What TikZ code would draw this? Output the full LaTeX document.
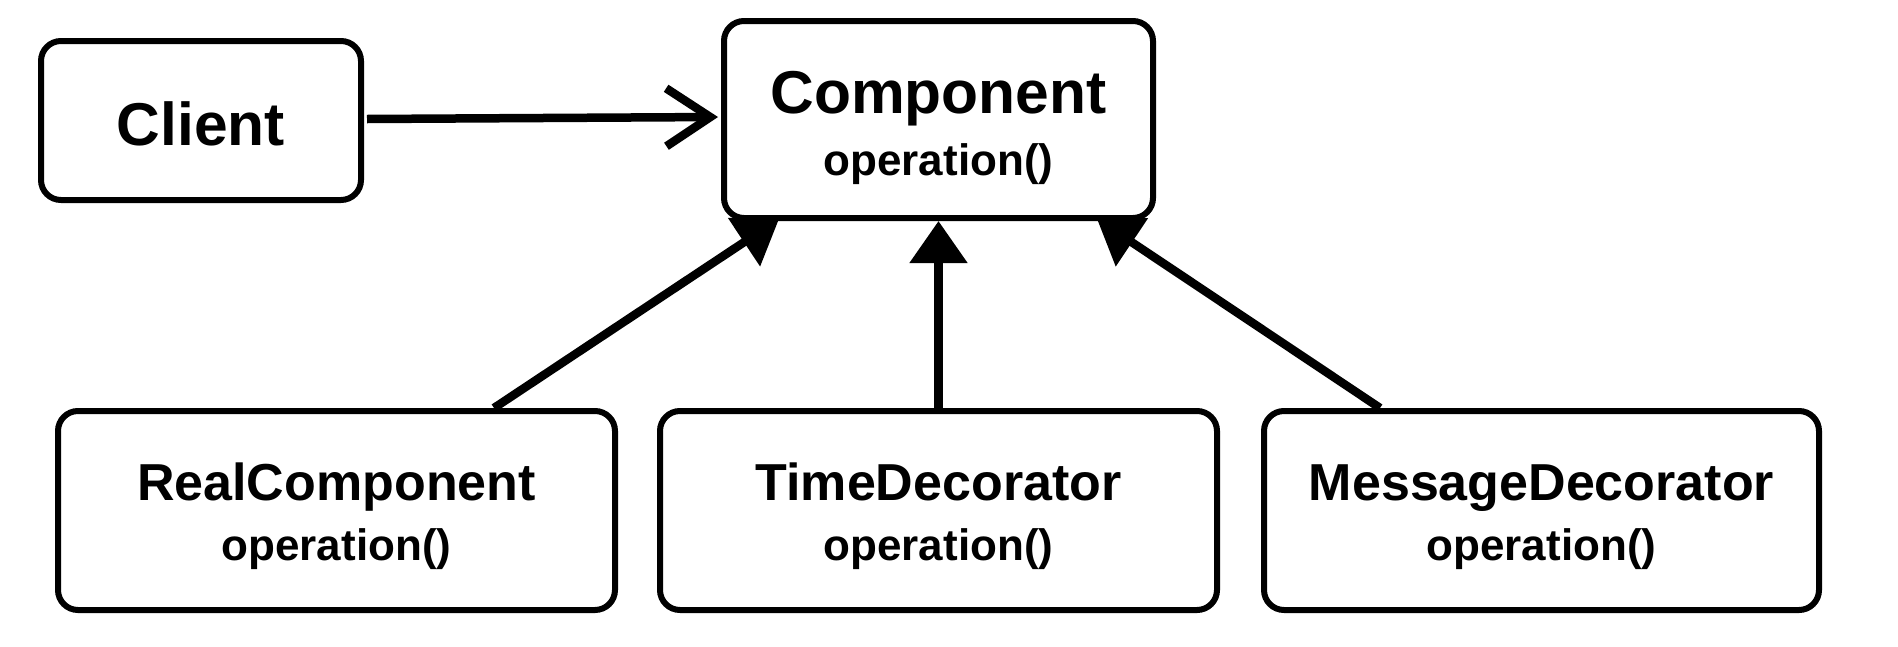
\documentclass[tikz,border=0pt]{standalone}
\usepackage{fontspec}
\setmainfont{Liberation Sans}
\usetikzlibrary{arrows.meta,calc}
\begin{document}
\begin{tikzpicture}[x=1pt,y=-1pt,
  box/.style={draw, line width=6pt, rounded corners=20pt, fill=white, inner sep=0pt},
  conn/.style={line width=8.5pt},
  inherit/.style={conn, -{Triangle[length=42pt,width=56pt]}},
  uses/.style={conn, -{Straight Barb[length=44pt,width=58pt]}},
  bigtitle/.style={anchor=base, inner sep=0pt, font=\fontsize{60.5}{62}\selectfont\bfseries},
  subtitle/.style={anchor=base, inner sep=0pt, font=\fontsize{52}{54}\selectfont\bfseries},
  optext/.style={anchor=base, inner sep=0pt, font=\fontsize{44}{45}\selectfont\bfseries}]
\useasboundingbox (0,0) rectangle (1898,646);

% boxes
\node[box, minimum width=320pt, minimum height=159pt] (client) at (201,120.5) {};
\node[box, minimum width=429pt, minimum height=197pt] (comp) at (938.5,119.5) {};
\node[box, minimum width=557pt, minimum height=199pt] (real) at (336.5,510.5) {};
\node[box, minimum width=557pt, minimum height=199pt] (time) at (938.5,510.5) {};
\node[box, minimum width=555pt, minimum height=199pt] (msg) at (1541.5,510.5) {};

% texts
\node[bigtitle] (clientT) at (201,145) {Client};
\node[bigtitle] (compT) at (938.5,113) {Component};
\node[optext] (compO) at (938.5,175) {operation()};
\node[subtitle] (realT) at (336.5,500) {RealComponent};
\node[optext] (realO) at (336.5,560) {operation()};
\node[subtitle] (timeT) at (938.5,500) {TimeDecorator};
\node[optext] (timeO) at (938.5,560) {operation()};
\node[subtitle] (msgT) at (1541.5,500) {MessageDecorator};
\node[optext] (msgO) at (1541.5,560) {operation()};

% connectors
\draw[uses] (client.east) ++(3pt,1.5pt) coordinate (cs) -- ($(comp.west)+(-3pt,2.5pt)$) coordinate (ce);
\draw[inherit] ($(real.north)+(157.5pt,0)$) coordinate (rs) -- ($(comp.south)+(-159.5pt,2pt)$) coordinate (re);
\draw[inherit] (time.north) -- (comp.south);
\draw[inherit] ($(msg.north)+(-161.5pt,0)$) coordinate (ms) -- ($(comp.south)+(158.5pt,2pt)$) coordinate (me);
\end{tikzpicture}
\end{document}
